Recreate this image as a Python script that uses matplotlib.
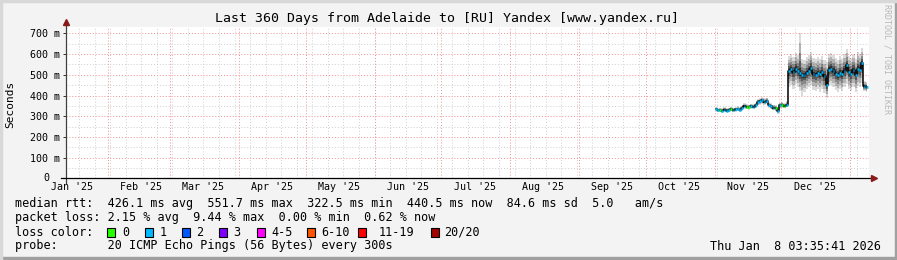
import numpy as np
import pandas as pd
import matplotlib
matplotlib.use("Agg")
import matplotlib.pyplot as plt
import matplotlib.dates as mdates
from matplotlib.patches import Rectangle
from matplotlib.lines import Line2D

# data (daily, 1 Nov 2025 .. 8 Jan 2026)
start_day = "2025-11-01"
median_ms = [335, 328, 330, 325, 332, 327, 330, 334, 329, 333, 336, 331, 338,
             349, 345, 343, 348, 346, 352, 368, 372, 376, 370, 375, 354, 348, 342, 338, 327, 352,
             355, 350, 356,
             520, 528, 515, 530, 518, 508, 500, 498, 510, 520, 532, 505, 500, 508, 503, 512, 495,
             450, 525, 530, 520, 505, 498, 510, 502, 520, 545, 515,
             505, 522, 500, 530, 525, 555, 445, 440]
smoke_lo = [322, 318, 320, 316, 322, 318, 320, 324, 319, 322, 325, 320, 326,
            336, 334, 332, 336, 335, 340, 352, 356, 360, 356, 360, 340, 334, 328, 324, 312, 338,
            342, 338, 344,
            440, 450, 430, 455, 440, 420, 400, 415, 430, 440, 450, 425, 420, 430, 418, 430, 410,
            390, 445, 450, 440, 425, 415, 430, 420, 440, 455, 430,
            420, 440, 415, 445, 440, 460, 420, 418]
smoke_hi = [346, 340, 342, 338, 344, 340, 342, 346, 341, 345, 348, 343, 350,
            362, 358, 356, 360, 358, 366, 384, 388, 392, 386, 390, 368, 362, 356, 352, 342, 366,
            368, 364, 372,
            590, 600, 585, 605, 595, 700, 575, 570, 585, 595, 610, 580, 575, 585, 575, 590, 570,
            560, 600, 605, 595, 580, 570, 590, 575, 600, 625, 590,
            580, 600, 575, 610, 600, 630, 470, 465]
loss_idx = [1, 1, 0, 1, 1, 1, 1, 0, 1, 1, 1, 1, 1,
            1, 0, 0, 1, 1, 1, 1, 1, 1, 1, 1, 1, 1, 1, 0, 1, 1,
            0, 0, 1,
            1, 1, 1, 1, 1, 1, 1, 1, 1, 1, 1, 1, 1, 1, 1, 1, 1,
            1, 1, 1, 1, 1, 1, 1, 1, 1, 1, 1,
            1, 1, 1, 1, 1, 1, 1, 1]

loss_labels = ["0", "1", "2", "3", "4-5", "6-10", "11-19", "20/20"]
loss_colors = ["#26ff00", "#00b8ff", "#0059ff", "#7e00ff", "#ff00ff", "#ff5500", "#ff0000", "#a10000"]

rtt_line = "median rtt:  426.1 ms avg  551.7 ms max  322.5 ms min  440.5 ms now  84.6 ms sd  5.0   am/s"
loss_line = "packet loss: 2.15 % avg  9.44 % max  0.00 % min  0.62 % now"
probe_line = "probe:       20 ICMP Echo Pings (56 Bytes) every 300s"
title = "Last 360 Days from Adelaide to [RU] Yandex [www.yandex.ru]"
stamp = "Thu Jan  8 03:35:41 2026"

W, H = 897, 260
MONO = "DejaVu Sans Mono"
BG = "#f3f3f3"

end = pd.Timestamp("2026-01-08 03:35:41")
begin = end - pd.Timedelta(days=360)
days = pd.date_range(start_day, periods=len(median_ms), freq="D") + pd.Timedelta(hours=12)

med = np.array(median_ms, float)
lo = np.array(smoke_lo, float)
hi = np.array(smoke_hi, float)

fig = plt.figure(figsize=(W / 100, H / 100), dpi=100, facecolor=BG)

def fx(px):
    return px / W

def fy(py):
    return 1 - py / H

# frame of the image
fig.patches.append(Rectangle((0, 0), 1, fy(257), transform=fig.transFigure, color="#a0a0a0", zorder=-5))
fig.patches.append(Rectangle((fx(895), 0), fx(2), 1, transform=fig.transFigure, color="#a0a0a0", zorder=-5))
fig.patches.append(Rectangle((0, fy(2)), 1, fy(0) - fy(2), transform=fig.transFigure, color="#d8d8d8", zorder=-5))
fig.patches.append(Rectangle((0, 0), fx(2), 1, transform=fig.transFigure, color="#d8d8d8", zorder=-5))

ax_l, ax_r, ax_t, ax_b = 66, 869, 27, 178.3
ax = fig.add_axes([fx(ax_l), fy(ax_b), fx(ax_r - ax_l), (ax_b - ax_t) / H])
ax.set_facecolor("white")
x0 = mdates.date2num(begin)
x1 = mdates.date2num(end) + (ax_r - 866) / 2.223
ax.set_xlim(x0, x1)
ax.set_ylim(0, 731)

# grid lines
for v in range(50, 731, 100):
    ax.axhline(v, color="#cfcfcf", lw=0.7, ls=(0, (1, 2)), zorder=0)
for v in range(100, 731, 100):
    ax.axhline(v, color="#f09090", lw=0.7, ls=(0, (1, 2)), zorder=0)
for d in pd.date_range("2025-01-05", "2026-01-10", freq="7D"):
    ax.axvline(mdates.date2num(d), color="#cfcfcf", lw=0.7, ls=(0, (1, 2)), zorder=0)
for d in pd.date_range("2025-02-01", "2026-01-10", freq="MS"):
    ax.axvline(mdates.date2num(d), color="#f09090", lw=0.7, ls=(0, (1, 2)), zorder=0)

# smoke: graded grey bands around the median
xd = mdates.date2num(days)
for f, a in [(1.0, 0.14), (0.75, 0.18), (0.5, 0.24), (0.3, 0.34), (0.14, 0.45)]:
    ax.fill_between(xd, med - f * (med - lo), med + f * (hi - med), step="mid",
                    color="#000000", alpha=a, lw=0, zorder=1)

# median line coloured by loss
ax.plot(xd, med, drawstyle="steps-mid", color="black", lw=1.1, zorder=2)
for xi, m, li in zip(xd, med, loss_idx):
    ax.plot([xi - 0.38, xi + 0.38], [m, m], color=loss_colors[li], lw=1.8,
            solid_capstyle="butt", zorder=3)

# ticks: labels in the middle of each month
months = pd.date_range("2025-01-01", "2025-12-01", freq="MS")
ticks_x = [mdates.date2num(d + pd.Timedelta(days=15)) for d in months]
ax.set_xticks(ticks_x)
ax.set_xticklabels([d.strftime("%b '%y") for d in months])
ax.set_yticks(range(0, 701, 100))
ax.set_yticklabels([""] + ["%d m" % v for v in range(100, 701, 100)])
ax.tick_params(axis="x", length=0, pad=3, labelsize=7.2, colors="black")
ax.tick_params(axis="y", length=2.5, width=0.7, pad=2, labelsize=7.2, colors="#333333", labelcolor="black")
for lab in ax.get_xticklabels() + ax.get_yticklabels():
    lab.set_family(MONO)
for s in ax.spines.values():
    s.set_visible(False)
# the zero label sits under the units digit, as rrdtool draws it
fig.text(fx(49.5), fy(ax_b), "0", family=MONO, fontsize=7.2, ha="right", va="center")

# axes with arrows
ax.add_line(Line2D([0, 0], [-0.03, 1.025], transform=ax.transAxes, color="#404040", lw=0.9, clip_on=False))
ax.add_line(Line2D([-0.006, 1.003], [0, 0], transform=ax.transAxes, color="black", lw=0.9, clip_on=False))
ax.plot([0], [1.03], marker="^", ms=4.5, color="#8b1a1a", transform=ax.transAxes, clip_on=False)
ax.plot([1.006], [0], marker=">", ms=4.5, color="#8b1a1a", transform=ax.transAxes, clip_on=False)

# texts
fig.text(fx(447), fy(18.5), title, family=MONO, fontsize=9.5, ha="center", va="center")
fig.text(fx(10), fy(104), "Seconds", family=MONO, fontsize=8, rotation=90, ha="center", va="center")
fig.text(fx(887), fy(4), "RRDTOOL / TOBI OETIKER", family=MONO, fontsize=6, color="#b8b8b8",
         rotation=270, ha="center", va="top")

fs = 8.5
def line_text(px, py, s, **kw):
    fig.text(fx(px - 0.7), fy(py), s, family=MONO, fontsize=fs, ha="left", va="center", **kw)

line_text(16, 204, rtt_line)
line_text(16, 218, loss_line)
line_text(16, 232, "loss color:")
box_x = [107.3, 145, 182.3, 219.3, 256.7, 307.3, 358, 430.7]
lab_x = [123.3, 160, 197.3, 234.3, 271.7, 322.3, 379.3, 445]
for bx, lx, c, s in zip(box_x, lab_x, loss_colors, loss_labels):
    fig.patches.append(Rectangle((fx(bx), fy(236.5)), fx(8), 9 / H, transform=fig.transFigure,
                                 facecolor=c, edgecolor="black", lw=0.8))
    line_text(lx, 232, s)
line_text(16, 246, probe_line)
fig.text(fx(880.5), fy(246), stamp, family=MONO, fontsize=fs, ha="right", va="center")

fig.savefig("out.png", dpi=100, facecolor=BG)
